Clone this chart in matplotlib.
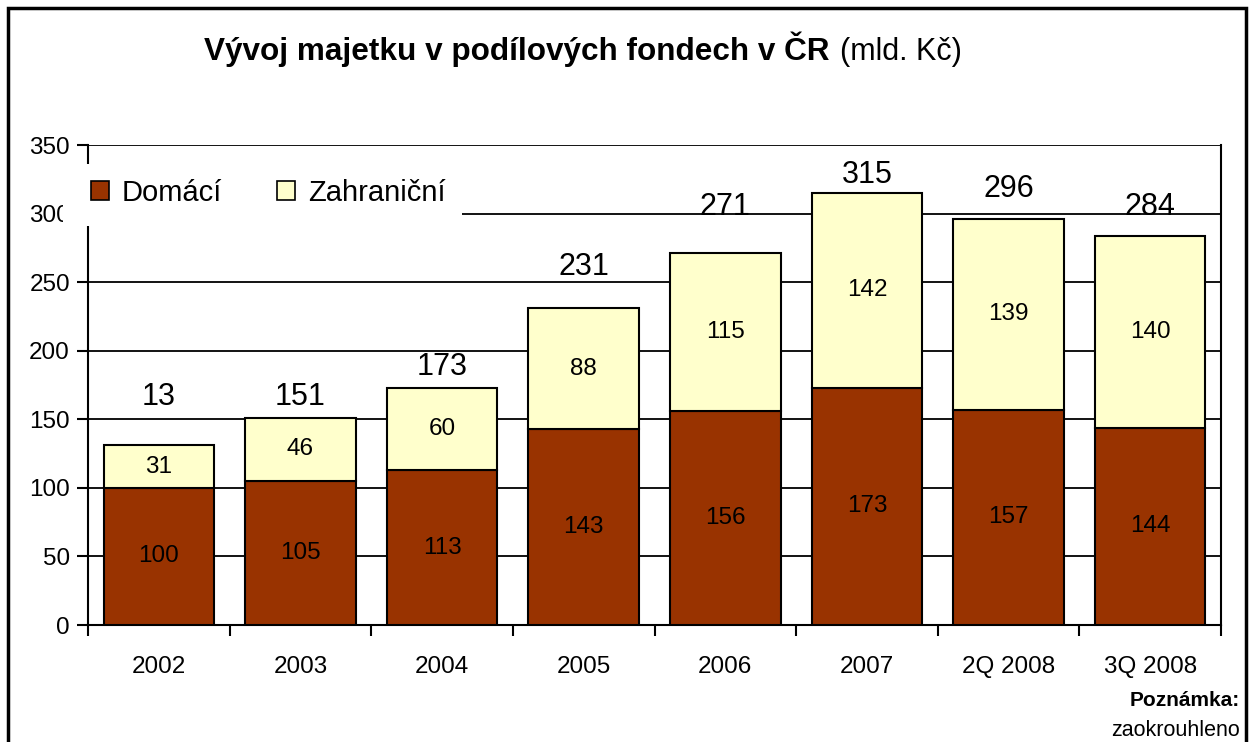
import matplotlib.pyplot as plt
from matplotlib.patches import Rectangle
import numpy as np

plt.rcParams['font.family'] = ['Liberation Sans', 'DejaVu Sans']

kategorie = ['2002', '2003', '2004', '2005', '2006', '2007', '2Q 2008', '3Q 2008']
domaci = [100, 105, 113, 143, 156, 173, 157, 144]
zahranicni = [31, 46, 60, 88, 115, 142, 139, 140]
souhrn_popisky = ['13', '151', '173', '231', '271', '315', '296', '284']
# kde stoji popisky souctu (v jednotkach osy y), v originale posunute rucne
souhrn_y = [166, 166, 188, 261, 305, 328, 318, 305]

barva_dom = '#993300'
barva_zahr = '#FFFFCC'

fig = plt.figure(figsize=(12.5, 7.42), dpi=100)
ax = fig.add_axes([88 / 1250, 117 / 742, (1221 - 88) / 1250, 480 / 742])

x = np.arange(len(kategorie))
ax.bar(x, domaci, width=0.78, color=barva_dom, edgecolor='black', linewidth=1.5, zorder=3)
ax.bar(x, zahranicni, width=0.78, bottom=domaci, color=barva_zahr,
       edgecolor='black', linewidth=1.5, zorder=3)

for i in range(len(kategorie)):
    ax.text(x[i], domaci[i] / 2, str(domaci[i]), ha='center', va='center', fontsize=17.5, zorder=4)
    ax.text(x[i], domaci[i] + zahranicni[i] / 2, str(zahranicni[i]),
            ha='center', va='center', fontsize=17.5, zorder=4)
    ax.text(x[i], souhrn_y[i], souhrn_popisky[i], ha='center', va='center', fontsize=22, zorder=4)

ax.set_xlim(-0.5, len(kategorie) - 0.5)
ax.set_ylim(0, 350)
ax.set_yticks(np.arange(0, 351, 50))
ax.set_xticks(x)
ax.set_xticklabels(kategorie)
ax.set_xticks(np.arange(-0.5, len(kategorie), 1), minor=True)
ax.tick_params(axis='x', which='major', length=0, pad=22, labelsize=17.5)
ax.tick_params(axis='x', which='minor', length=8, width=1.5, direction='out')
ax.tick_params(axis='y', length=8, width=1.5, direction='out', labelsize=17.5, pad=5)
ax.yaxis.grid(True, color='black', linewidth=1.3, zorder=0)
ax.set_axisbelow(True)
for s in ['left', 'right', 'bottom', 'top']:
    ax.spines[s].set_linewidth(1.5)
ax.spines['top'].set_visible(False)

# bily box legendy, prekryva cast popisku 300
fig.patches.append(Rectangle((63 / 1250, 1 - 226 / 742), 399 / 1250, 62 / 742,
                             transform=fig.transFigure, facecolor='white',
                             edgecolor='none', zorder=5))
h1 = Rectangle((0, 0), 1, 1, facecolor=barva_dom, edgecolor='black', linewidth=1.2)
h2 = Rectangle((0, 0), 1, 1, facecolor=barva_zahr, edgecolor='black', linewidth=1.2)
leg = fig.legend([h1, h2], ['Domácí', 'Zahraniční'], loc='center left',
                 bbox_to_anchor=(91 / 1250, 1 - 193 / 742), ncol=2, frameon=False,
                 borderpad=0, borderaxespad=0,
                 fontsize=21, handlelength=0.6, handleheight=0.6, handletextpad=0.45,
                 columnspacing=1.9)
leg.set_zorder(6)

fig.text(830 / 1250, 1 - 60 / 742, 'Vývoj majetku v podílových fondech v ČR',
         ha='right', va='baseline', fontsize=22.7, fontweight='bold')
fig.text(840 / 1250, 1 - 60 / 742, '(mld. Kč)', ha='left', va='baseline', fontsize=22)

fig.text(1240 / 1250, 1 - 701 / 742, 'Poznámka:', ha='right', va='center',
         fontsize=15, fontweight='bold')
fig.text(1240 / 1250, 1 - 730 / 742, 'zaokrouhleno', ha='right', va='center', fontsize=15.5)

# ramecek kolem grafu
fig.patches.append(Rectangle((8 / 1250, -0.1), 1238 / 1250, 1.1 - 8 / 742,
                             transform=fig.transFigure, facecolor='none',
                             edgecolor='black', linewidth=2.5, zorder=7))

fig.savefig('out.png', dpi=100)
